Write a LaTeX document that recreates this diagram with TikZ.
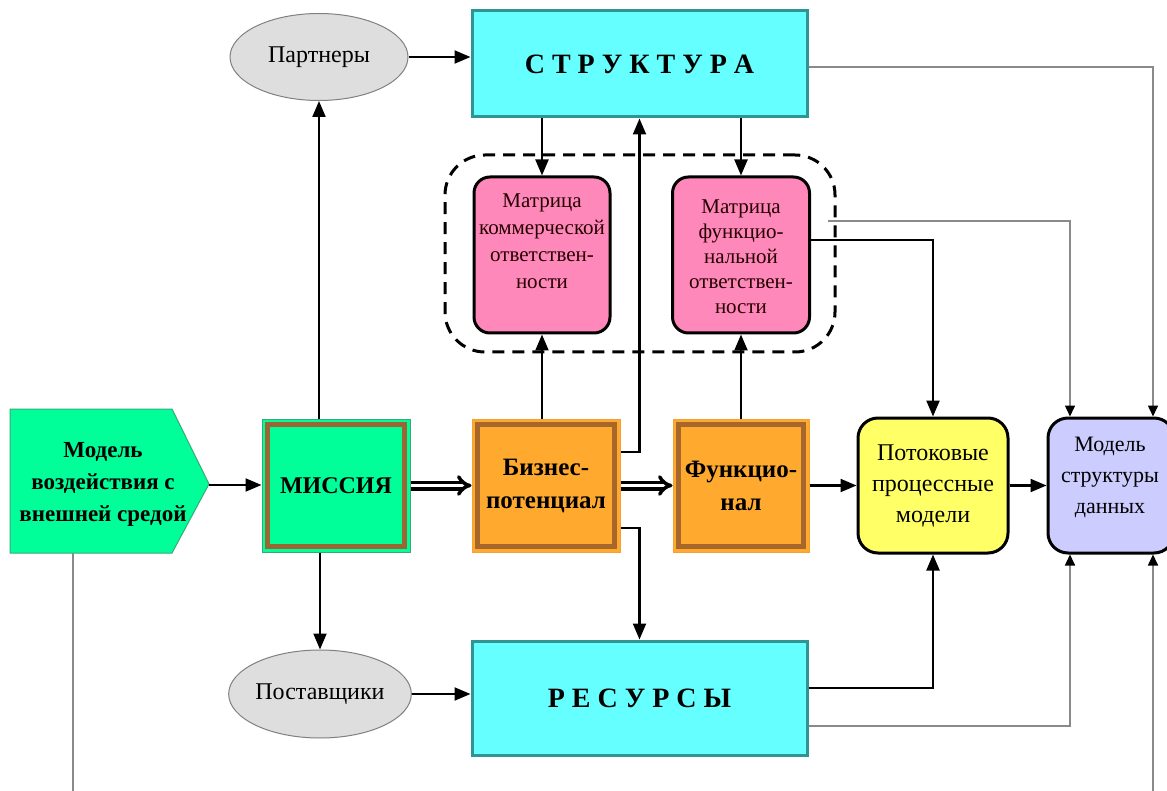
\documentclass[tikz,border=0pt]{standalone}
\usepackage{fontspec}
\setmainfont{Liberation Serif}
\usetikzlibrary{arrows.meta,calc,shapes.geometric}
\definecolor{cyanbox}{HTML}{66FFFF}
\definecolor{tealb}{HTML}{2E9494}
\definecolor{greenbox}{HTML}{00FF99}
\definecolor{greenb}{HTML}{33AA77}
\definecolor{brownb}{HTML}{9A6633}
\definecolor{orangebox}{HTML}{FFAA2E}
\definecolor{orangeb}{HTML}{A8672A}
\definecolor{pinkbox}{HTML}{FF88BB}
\definecolor{yellowbox}{HTML}{FFFF66}
\definecolor{lavbox}{HTML}{CCCCFF}
\definecolor{ellfill}{HTML}{DEDEDE}
\definecolor{ellb}{HTML}{808080}
\definecolor{grayline}{HTML}{8A8A8A}
\begin{document}
\begin{tikzpicture}[x=1pt,y=-1pt,
  arr/.style={draw=black, line width=2.2pt, -{Triangle[length=16pt,width=13pt]}},
  garr/.style={draw=grayline, line width=1.6pt, -{Triangle[length=11pt,width=10pt,color=black]}},
  gline/.style={draw=grayline, line width=1.3pt},
  dblarr/.style={draw=black, double=white, double distance=3pt, line width=3.5pt, -{Implies[length=13pt]}},
  ell/.style={ellipse, draw=ellb, line width=1pt, fill=ellfill, inner sep=0pt, font=\fontsize{24}{28}\selectfont},
  cyanrect/.style={rectangle, draw=tealb, line width=3pt, fill=cyanbox, inner sep=0pt, font=\fontsize{28}{30}\selectfont\bfseries},
  inset/.style={path picture={\draw[#1,line width=5pt] ([shift={(5.5pt,-5.5pt)}]path picture bounding box.north west) rectangle ([shift={(-5.5pt,5.5pt)}]path picture bounding box.south east);}},
  misbox/.style={rectangle, draw=greenb, line width=1pt, fill=greenbox, inset=brownb, inner sep=0pt, font=\fontsize{24}{30}\selectfont\bfseries, align=center},
  orbox/.style={rectangle, draw=orangebox!80!brown, line width=1pt, fill=orangebox, inset=orangeb, inner sep=0pt, font=\fontsize{25}{33}\selectfont\bfseries, align=center},
  matbox/.style={rectangle, draw=black, line width=3pt, fill=pinkbox, rounded corners=16pt, inner sep=0pt},
  mattext/.style={align=center, text=black!85!red, font=\fontsize{21}{27}\selectfont},
  modbox/.style={rectangle, draw=black, line width=3pt, rounded corners=20pt, inner sep=0pt, align=center, font=\fontsize{24}{31}\selectfont},
  grpbox/.style={rectangle, draw=black, line width=3pt, dash pattern=on 12pt off 8pt, rounded corners=40pt, inner sep=0pt}
]
\path[use as bounding box, clip] (0,0) rectangle (1167,791);

% ---- external model (pentagon)
\draw[fill=greenbox, draw=greenb, line width=1pt] (10,409) -- (172,409) -- (209,484) -- (172,553) -- (10,553) -- cycle;
\node[align=center, font=\fontsize{23}{32}\selectfont\bfseries] (pentt) at (103,484) {Модель\\воздействия с\\внешней средой};
\coordinate (ptip) at (209,485);
\coordinate (pbot) at (73,553);
\coordinate (pend) at (73,791);

% ---- ellipses
\node[ell, minimum width=178pt, minimum height=87pt] (part) at (319,57) {Партнеры};
\node[ell, minimum width=178pt, minimum height=88pt] (sup) at (320,694) {Поставщики};

% ---- cyan boxes
\node[cyanrect, minimum width=335pt, minimum height=106pt] (struct) at (639.5,64) {С Т Р У К Т У Р А};
\node[cyanrect, minimum width=335pt, minimum height=114pt] (res) at (639.5,698) {Р Е С У Р С Ы};

% ---- dashed group and matrices
\node[grpbox, minimum width=390pt, minimum height=197pt] (grp) at (640,253.5) {};
\node[matbox, minimum width=136pt, minimum height=156pt] (m1) at (542,255) {};
\node[mattext] (m1t) at (542,241) {Матрица\\коммерческой\\ответствен-\\ности};
\node[matbox, minimum width=137pt, minimum height=156pt] (m2) at (741,255) {};
\node[mattext, font=\fontsize{21}{25}\selectfont] (m2t) at (741,257) {Матрица\\функцио-\\нальной\\ответствен-\\ности};

% ---- middle row
\node[misbox, minimum width=148pt, minimum height=133pt] (mis) at (336,485.5) {МИССИЯ};
\node[orbox, minimum width=148pt, minimum height=133pt] (biz) at (546,485.5) {Бизнес-\\потенциал};
\node[orbox, minimum width=136pt, minimum height=133pt] (fun) at (741,485.5) {Функцио-\\нал};
\node[modbox, fill=yellowbox, minimum width=150pt, minimum height=135pt] (flow) at (933,485.5) {Потоковые\\процессные\\модели};
\node[modbox, fill=lavbox, minimum width=126pt, minimum height=135pt] (data) at (1111,485.5) {};
\node[align=center, font=\fontsize{22}{31}\selectfont] (datat) at (1110,477) {Модель\\структуры\\данных};

% ---- black connectors
\draw[arr] (part.east) -- (part.east -| struct.west);
\draw[arr] (sup.east) -- (sup.east -| res.west);
\draw[arr] (ptip) -- (ptip -| mis.west);
\draw[arr] (part.south |- mis.north) -- (part.south);
\draw[arr] (sup.north |- mis.south) -- (sup.north);
\draw[dblarr] (mis.east) -- (biz.west);
\draw[dblarr] (biz.east) -- (fun.west);
\draw[arr] (fun.east) -- (flow.west);
\draw[arr] (flow.east) -- (data.west);
\draw[arr] (m1.north |- struct.south) -- (m1.north);
\draw[arr] (m2.north |- struct.south) -- (m2.north);
\draw[arr] (m1.south |- biz.north) -- (m1.south);
\draw[arr] (m2.south |- fun.north) -- (m2.south);
\draw[arr] ([yshift=33.5pt]biz.east) -| (struct.south);
\draw[arr] ([yshift=-42.5pt]biz.east) -| (res.south |- res.north);
\draw[arr] ([yshift=15pt]m2.east) -| (flow.north);
\draw[arr] ([yshift=10pt]res.east) -| (flow.south);

% ---- gray connectors
\coordinate (g1) at (828,221);
\coordinate (b1) at (1153,791);
\draw[garr] (g1) -| ([xshift=-41pt]data.north);
\draw[garr] ([yshift=-3pt]struct.east) -| ([xshift=42pt]data.north);
\draw[garr] ([yshift=-28pt]res.east) -| ([xshift=-41pt]data.south);
\draw[garr] (b1) -- (b1 |- data.south);
\draw[gline] (pbot) -- (pend);
\end{tikzpicture}
\end{document}
